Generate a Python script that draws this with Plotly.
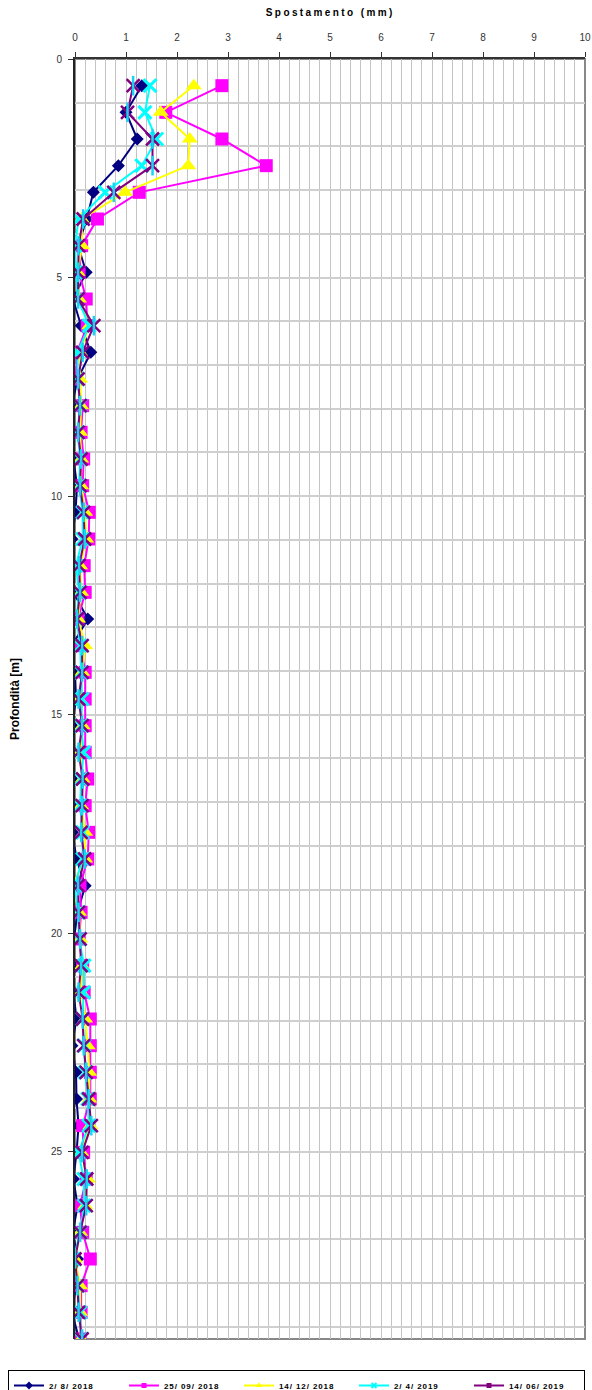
import plotly.graph_objects as go

depth = [0.61, 1.22, 1.83, 2.44, 3.05, 3.66, 4.27, 4.88, 5.49, 6.10, 6.71, 7.32,
         7.93, 8.54, 9.15, 9.76, 10.37, 10.98, 11.59, 12.20, 12.81, 13.42, 14.03, 14.64,
         15.25, 15.86, 16.47, 17.08, 17.69, 18.30, 18.91, 19.52, 20.13, 20.74, 21.35, 21.96,
         22.57, 23.18, 23.79, 24.40, 25.01, 25.62, 26.23, 26.84, 27.45, 28.06, 28.67, 29.28]

s_2_8_2018 = [1.31, 1.00, 1.22, 0.85, 0.36, 0.23, 0.06, 0.22, -0.04, 0.12, 0.31, 0.05,
              -0.06, -0.06, -0.03, 0.04, 0.01, -0.06, -0.03, -0.03, 0.25, -0.06, 0.00, 0.02,
              -0.06, -0.04, -0.06, -0.03, -0.05, 0.03, 0.20, 0.05, -0.02, -0.04, -0.03, 0.03,
              -0.06, 0.02, 0.03, 0.07, 0.03, -0.03, 0.05, -0.04, 0.05, 0.02, -0.06, 0.08]
s_25_09_2018 = [2.88, 1.78, 2.88, 3.75, 1.26, 0.44, 0.13, 0.08, 0.22, 0.24, 0.04, 0.02,
                0.15, 0.12, 0.17, 0.15, 0.28, 0.27, 0.18, 0.20, 0.06, 0.12, 0.20, 0.20,
                0.20, 0.20, 0.25, 0.20, 0.27, 0.25, 0.10, 0.12, 0.08, 0.15, 0.18, 0.30,
                0.30, 0.30, 0.30, 0.15, 0.17, 0.22, 0.10, 0.15, 0.30, 0.12, 0.12, 0.10]
s_14_12_2018 = [2.33, 1.68, 2.25, 2.22, 0.98, 0.13, 0.14, 0.05, 0.08, 0.28, 0.10, 0.10,
                0.12, 0.10, 0.12, 0.12, 0.20, 0.22, 0.10, 0.12, 0.06, 0.20, 0.14, 0.08,
                0.15, 0.10, 0.15, 0.12, 0.20, 0.20, -0.05, 0.08, 0.10, 0.14, 0.12, 0.20,
                0.25, 0.28, 0.28, 0.30, 0.12, 0.25, 0.20, 0.10, 0.00, 0.10, 0.10, 0.12]
s_2_4_2019 = [1.47, 1.37, 1.60, 1.31, 0.59, 0.07, 0.00, 0.02, 0.05, 0.28, 0.05, 0.05,
              0.10, 0.05, 0.10, 0.08, 0.15, 0.15, 0.02, 0.08, 0.03, 0.10, 0.12, 0.14,
              0.12, 0.17, 0.12, 0.10, 0.15, 0.15, -0.01, 0.06, 0.08, 0.18, 0.17, 0.15,
              0.18, 0.20, 0.25, 0.27, 0.07, 0.17, 0.18, 0.10, -0.03, 0.05, 0.10, 0.12]
s_14_06_2019 = [1.14, 1.03, 1.52, 1.52, 0.76, 0.16, 0.07, 0.06, 0.06, 0.37, 0.15, 0.06,
                0.10, 0.06, 0.12, 0.10, 0.17, 0.19, 0.08, 0.10, 0.04, 0.14, 0.14, 0.07,
                0.14, 0.07, 0.15, 0.14, 0.12, 0.19, 0.06, 0.07, 0.10, 0.12, 0.07, 0.15,
                0.17, 0.22, 0.27, 0.32, 0.14, 0.23, 0.22, 0.10, 0.00, 0.05, 0.07, 0.14]

labels = ["2/ 8/ 2018", "25/ 09/ 2018", "14/ 12/ 2018", "2/ 4/ 2019", "14/ 06/ 2019"]
x_ticks = [0, 1, 2, 3, 4, 5, 6, 7, 8, 9, 10]
y_ticks = [0, 5, 10, 15, 20, 25]

FONT = "Liberation Sans, Arial, sans-serif"

series = [s_2_8_2018, s_25_09_2018, s_14_12_2018, s_2_4_2019, s_14_06_2019]
colors = ["#000080", "#FF00FF", "#FFFF00", "#00FFFF", "#800080"]
plot_markers = [
    dict(symbol="diamond", size=10, color=colors[0]),
    dict(symbol="square", size=13, color=colors[1]),
    dict(symbol="triangle-up", size=14, color=colors[2]),
    dict(symbol="x-thin-open", size=13, line=dict(color=colors[3], width=3)),
    dict(symbol="x-thin-open", size=13, line=dict(color=colors[4], width=2.5)),
]
legend_markers = [
    dict(symbol="diamond", size=6, color=colors[0]),
    dict(symbol="square", size=5, color=colors[1]),
    dict(symbol="triangle-up", size=6, color=colors[2]),
    dict(symbol="x-thin-open", size=5, line=dict(color=colors[3], width=2)),
    dict(symbol="square", size=5, color=colors[4]),
]

fig = go.Figure()

for i in range(5):
    fig.add_trace(go.Scatter(x=series[i], y=depth, name=labels[i], mode="lines+markers",
                             showlegend=False,
                             line=dict(color=colors[i], width=2),
                             marker=plot_markers[i]))
    if i == 4:
        fig.add_trace(go.Scatter(x=series[i], y=depth, mode="markers", showlegend=False,
                                 hoverinfo="skip",
                                 marker=dict(symbol="line-ns-open", size=14,
                                             line=dict(color=colors[4], width=2.5))))

# legend entries (Excel-style small markers)
for i in range(5):
    fig.add_trace(go.Scatter(x=[None], y=[None], name=labels[i], mode="lines+markers",
                             line=dict(color=colors[i], width=2),
                             marker=legend_markers[i], hoverinfo="skip"))

fig.update_layout(
    width=592, height=1390,
    margin=dict(l=75, r=7, t=59, b=51, autoexpand=False),
    paper_bgcolor="white", plot_bgcolor="white",
    font=dict(family=FONT, size=10, color="#333333"),
    xaxis=dict(
        side="top", range=[0, 10], tickvals=x_ticks, automargin=False,
        showgrid=True, gridcolor="#c4c4c4", gridwidth=1,
        minor=dict(dtick=0.2, showgrid=True, gridcolor="#c4c4c4", gridwidth=1),
        showline=True, linecolor="#333333", linewidth=2,
        ticks="outside", ticklen=5, tickcolor="#333333", tickwidth=1,
        ticklabelstandoff=7,
        tickfont=dict(size=10, color="#333333"),
        zeroline=False,
    ),
    yaxis=dict(
        range=[29.28, 0], tickvals=y_ticks, automargin=False,
        showgrid=True, gridcolor="#cfcfcf", gridwidth=2,
        minor=dict(dtick=1, showgrid=True, gridcolor="#cfcfcf", gridwidth=2),
        showline=True, linecolor="#222222", linewidth=2,
        ticks="outside", ticklen=5, tickcolor="#333333", tickwidth=1,
        ticklabelstandoff=4,
        tickfont=dict(size=10, color="#333333"),
        zeroline=False,
    ),
    legend=dict(
        orientation="h", x=(8 - 75) / 510, xanchor="left",
        y=(1339 - 1370) / 1280, yanchor="top",
        bordercolor="#000000", borderwidth=1, bgcolor="white",
        font=dict(family=FONT, size=8, color="#000000"),
        entrywidth=70, entrywidthmode="pixels",
        tracegroupgap=0, itemsizing="trace",
    ),
    shapes=[dict(type="rect", xref="x domain", yref="y domain", x0=0, x1=1, y0=0, y1=1,
                 line=dict(color="#888888", width=2), layer="below")],
    annotations=[
        dict(text="<b>Spostamento (mm)</b>", xref="paper", yref="paper",
             x=0.5, y=1 + (59 - 12) / 1280, xanchor="center", yanchor="middle",
             showarrow=False, font=dict(family=FONT, size=10, color="#000000")),
        dict(text="<b>Profondità [m]</b>", xref="paper", yref="paper",
             x=(15 - 75) / 510, y=0.5, xanchor="center", yanchor="middle",
             textangle=-90, showarrow=False,
             font=dict(family=FONT, size=12, color="#000000")),
    ],
)

post = (
    "document.body.style.margin='0';document.body.style.overflow='hidden';"
    "var a=document.querySelectorAll('.annotation-text');"
    "if(a.length>0){a[0].style.letterSpacing='2.4px';}"
    "document.querySelectorAll('.legendtext').forEach(function(t){"
    "t.style.letterSpacing='0.9px';t.style.fontWeight='bold';});"
)

fig.write_html("out.html", config={"displayModeBar": False}, post_script=post)
